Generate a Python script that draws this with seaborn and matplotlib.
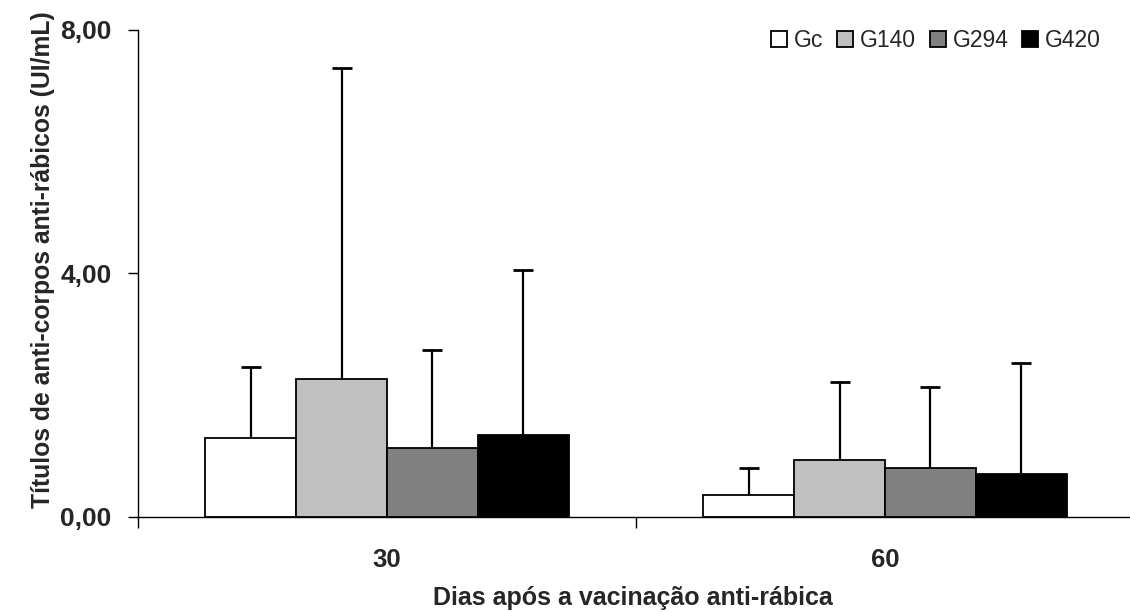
import numpy as np
import pandas as pd
import matplotlib
matplotlib.use("Agg")
import matplotlib.pyplot as plt
import seaborn as sns
from matplotlib.patches import Patch
from matplotlib.ticker import FixedLocator, FuncFormatter

# ---- data ----
days = ["30", "60"]
groups = ["Gc", "G140", "G294", "G420"]
mean_30 = [1.30, 2.27, 1.14, 1.34]
mean_60 = [0.36, 0.93, 0.80, 0.71]
upper_30 = [2.46, 7.37, 2.74, 4.05]
upper_60 = [0.80, 2.21, 2.14, 2.52]
colors = ["#FFFFFF", "#C0C0C0", "#808080", "#000000"]

df = pd.DataFrame({
    "dia": [days[0]] * 4 + [days[1]] * 4,
    "grupo": groups * 2,
    "titulo": mean_30 + mean_60,
    "sup": upper_30 + upper_60,
})

sns.set_theme(style="white")
plt.rcParams["font.family"] = ["Liberation Sans", "DejaVu Sans"]

fig = plt.figure(figsize=(11.30, 6.12), dpi=100)
ax = fig.add_axes([138 / 1130, 95 / 612, 996 / 1130, 487.5 / 612])

sns.barplot(data=df, x="dia", y="titulo", hue="grupo", order=days,
            hue_order=groups, palette=colors, width=0.73, errorbar=None,
            edgecolor="black", linewidth=1.3, saturation=1, ax=ax, legend=False,
            zorder=2)

# upper-only error bars from the bar patches
bars = [p for p in ax.patches if p.get_height() > 0]
bars_sorted = sorted(bars, key=lambda p: p.get_x())
order_idx = [(d, g) for d in range(2) for g in range(4)]
for p, (d, g) in zip(bars_sorted, order_idx):
    xc = p.get_x() + p.get_width() / 2
    m = [mean_30, mean_60][d][g]
    u = [upper_30, upper_60][d][g]
    ax.errorbar(xc, m, yerr=[[0], [u - m]], fmt="none", ecolor="black",
                elinewidth=1.6, capsize=0, zorder=1)
    ax.plot([xc], [u], marker="_", markersize=14, markeredgewidth=2.0,
            color="black", zorder=1)

ax.set_xlim(-0.5, 1.5)
ax.set_ylim(0, 8)
ax.set_yticks([0, 4, 8])
ax.yaxis.set_major_formatter(FuncFormatter(lambda v, _: f"{v:.2f}".replace(".", ",")))
ax.tick_params(axis="y", direction="out", length=7, width=1, color="black",
               pad=12, labelsize=19, left=True)
for t in ax.get_yticklabels():
    t.set_fontweight("bold")
ax.tick_params(axis="x", which="major", length=0, pad=22, labelsize=18.5)
for t in ax.get_xticklabels():
    t.set_fontweight("bold")
ax.xaxis.set_minor_locator(FixedLocator([-0.5, 0.5, 1.5]))
ax.tick_params(axis="x", which="minor", direction="out", length=8, width=1,
               color="black", bottom=True)

for s in ["top", "right"]:
    ax.spines[s].set_visible(False)
for s in ["left", "bottom"]:
    ax.spines[s].set_color("black")
    ax.spines[s].set_linewidth(1.0)

ax.set_xlabel("Dias após a vacinação anti-rábica", fontsize=18, fontweight="bold",
              va="center")
ax.xaxis.set_label_coords((633 - 138) / 996, (517 - 598) / 487.5)
ax.set_ylabel("Títulos de anti-corpos anti-rábicos (UI/mL)", fontsize=17.8,
              fontweight="bold", va="center")
ax.yaxis.set_label_coords((43 - 138) / 996, (517 - 260) / 487.5)

handles = [Patch(facecolor=c, edgecolor="black", linewidth=1.3, label=g)
           for c, g in zip(colors, groups)]
ax.legend(handles=handles, loc="upper right", bbox_to_anchor=(0.976, 1.02),
          ncol=4, frameon=False, fontsize=16.5, handlelength=0.7, handleheight=0.7,
          handletextpad=0.3, columnspacing=0.6, borderaxespad=0)

fig.savefig("out.png", dpi=100, facecolor="white")
